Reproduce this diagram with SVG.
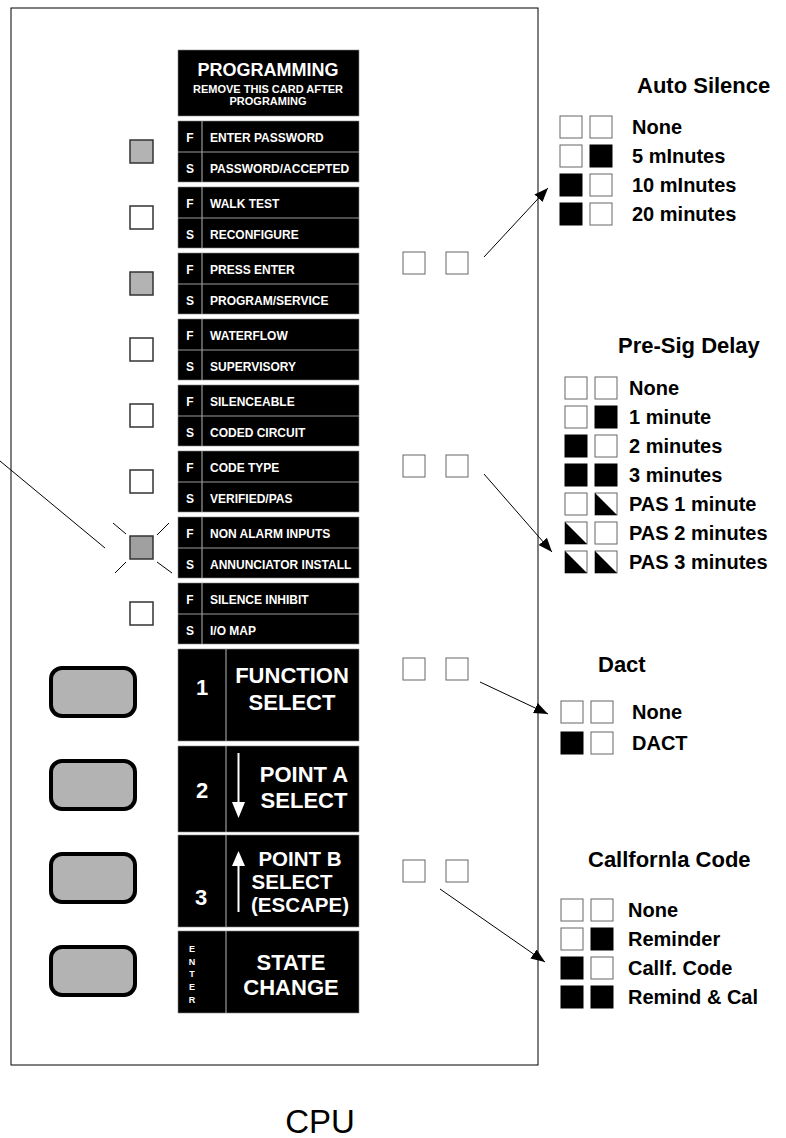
<svg xmlns="http://www.w3.org/2000/svg" width="786" height="1138" viewBox="0 0 786 1138">
<style>
.blk{fill:#000;stroke:#888;stroke-width:0.6}
.sep{stroke:#999;stroke-width:1.2}
.w{fill:#fff;font-family:"Liberation Sans",Arial,sans-serif;font-weight:bold}
.fs{font-size:12px}
.big{font-size:22px}
.led{stroke:#333;stroke-width:1.5}
.sq{fill:#fff;stroke:#666;stroke-width:1}
.sb{fill:#000;stroke:#000;stroke-width:1}
.lg{font-family:"Liberation Sans",Arial,sans-serif;font-weight:bold;font-size:20px;fill:#000}
.ttl{font-family:"Liberation Sans",Arial,sans-serif;font-weight:bold;font-size:22px;fill:#000}
.btn{fill:#b3b3b3;stroke:#000;stroke-width:4}
.ln{stroke:#000;stroke-width:1;fill:none}
</style>
<defs>
<marker id="ah" markerUnits="userSpaceOnUse" markerWidth="15" markerHeight="11" refX="14" refY="5.5" orient="auto"><path d="M0,0 L14,5.5 L0,11 z" fill="#000"/></marker>
<g id="half"><rect width="22" height="22" class="sq"/><path d="M0,0 L22,22 L0,22 z" fill="#000"/></g>
</defs>
<rect x="11" y="8" width="527" height="1057" fill="none" stroke="#000" stroke-width="1"/>

<g id="header">
<rect x="178" y="50" width="181" height="66" class="blk"/>
<text x="268" y="76" class="w" font-size="18" text-anchor="middle">PROGRAMMING</text>
<text x="268" y="93" class="w" font-size="11" text-anchor="middle">REMOVE THIS CARD AFTER</text>
<text x="268" y="105" class="w" font-size="11" text-anchor="middle">PROGRAMING</text>
</g>

<g id="row0"><rect x="178" y="121" width="181" height="61" class="blk"/><line x1="202" y1="121" x2="202" y2="182" class="sep"/><line x1="178" y1="152" x2="359" y2="152" class="sep"/><text x="190" y="142" class="w fs" text-anchor="middle">F</text><text x="210" y="142" class="w fs">ENTER PASSWORD</text><text x="190" y="173" class="w fs" text-anchor="middle">S</text><text x="210" y="173" class="w fs">PASSWORD/ACCEPTED</text><rect x="130" y="140" width="23" height="23" fill="#b3b3b3" class="led"/></g>
<g id="row1"><rect x="178" y="187" width="181" height="61" class="blk"/><line x1="202" y1="187" x2="202" y2="248" class="sep"/><line x1="178" y1="218" x2="359" y2="218" class="sep"/><text x="190" y="208" class="w fs" text-anchor="middle">F</text><text x="210" y="208" class="w fs">WALK TEST</text><text x="190" y="239" class="w fs" text-anchor="middle">S</text><text x="210" y="239" class="w fs">RECONFIGURE</text><rect x="130" y="206" width="23" height="23" fill="#fff" class="led"/></g>
<g id="row2"><rect x="178" y="253" width="181" height="61" class="blk"/><line x1="202" y1="253" x2="202" y2="314" class="sep"/><line x1="178" y1="284" x2="359" y2="284" class="sep"/><text x="190" y="274" class="w fs" text-anchor="middle">F</text><text x="210" y="274" class="w fs">PRESS ENTER</text><text x="190" y="305" class="w fs" text-anchor="middle">S</text><text x="210" y="305" class="w fs">PROGRAM/SERVICE</text><rect x="130" y="272" width="23" height="23" fill="#b3b3b3" class="led"/></g>
<g id="row3"><rect x="178" y="319" width="181" height="61" class="blk"/><line x1="202" y1="319" x2="202" y2="380" class="sep"/><line x1="178" y1="350" x2="359" y2="350" class="sep"/><text x="190" y="340" class="w fs" text-anchor="middle">F</text><text x="210" y="340" class="w fs">WATERFLOW</text><text x="190" y="371" class="w fs" text-anchor="middle">S</text><text x="210" y="371" class="w fs">SUPERVISORY</text><rect x="130" y="338" width="23" height="23" fill="#fff" class="led"/></g>
<g id="row4"><rect x="178" y="385" width="181" height="61" class="blk"/><line x1="202" y1="385" x2="202" y2="446" class="sep"/><line x1="178" y1="416" x2="359" y2="416" class="sep"/><text x="190" y="406" class="w fs" text-anchor="middle">F</text><text x="210" y="406" class="w fs">SILENCEABLE</text><text x="190" y="437" class="w fs" text-anchor="middle">S</text><text x="210" y="437" class="w fs">CODED CIRCUIT</text><rect x="130" y="404" width="23" height="23" fill="#fff" class="led"/></g>
<g id="row5"><rect x="178" y="451" width="181" height="61" class="blk"/><line x1="202" y1="451" x2="202" y2="512" class="sep"/><line x1="178" y1="482" x2="359" y2="482" class="sep"/><text x="190" y="472" class="w fs" text-anchor="middle">F</text><text x="210" y="472" class="w fs">CODE TYPE</text><text x="190" y="503" class="w fs" text-anchor="middle">S</text><text x="210" y="503" class="w fs">VERIFIED/PAS</text><rect x="130" y="470" width="23" height="23" fill="#fff" class="led"/></g>
<g id="row6"><rect x="178" y="517" width="181" height="61" class="blk"/><line x1="202" y1="517" x2="202" y2="578" class="sep"/><line x1="178" y1="548" x2="359" y2="548" class="sep"/><text x="190" y="538" class="w fs" text-anchor="middle">F</text><text x="210" y="538" class="w fs">NON ALARM INPUTS</text><text x="190" y="569" class="w fs" text-anchor="middle">S</text><text x="210" y="569" class="w fs">ANNUNCIATOR INSTALL</text><rect x="130" y="536" width="23" height="23" fill="#a0a0a0" class="led"/>
<g class="ln"><line x1="113" y1="523" x2="126" y2="534"/><line x1="157" y1="535" x2="169" y2="523"/><line x1="115" y1="573" x2="126" y2="562"/><line x1="157" y1="562" x2="172" y2="573"/></g></g>
<g id="row7"><rect x="178" y="583" width="181" height="61" class="blk"/><line x1="202" y1="583" x2="202" y2="644" class="sep"/><line x1="178" y1="614" x2="359" y2="614" class="sep"/><text x="190" y="604" class="w fs" text-anchor="middle">F</text><text x="210" y="604" class="w fs">SILENCE INHIBIT</text><text x="190" y="635" class="w fs" text-anchor="middle">S</text><text x="210" y="635" class="w fs">I/O MAP</text><rect x="130" y="602" width="23" height="23" fill="#fff" class="led"/></g>

<g id="key1"><rect x="51" y="668" width="84" height="48" rx="11" class="btn"/><rect x="178" y="649" width="181" height="92" class="blk"/><line x1="226" y1="649" x2="226" y2="741" class="sep"/><text x="202" y="695" class="w big" text-anchor="middle">1</text><text x="292" y="683" class="w big" text-anchor="middle">FUNCTION</text><text x="292" y="710" class="w big" text-anchor="middle">SELECT</text></g>
<g id="key2"><rect x="51" y="761" width="84" height="48" rx="11" class="btn"/><rect x="178" y="746" width="181" height="86" class="blk"/><line x1="226" y1="746" x2="226" y2="832" class="sep"/><text x="202" y="798" class="w big" text-anchor="middle">2</text><line x1="238.5" y1="753" x2="238.5" y2="805" stroke="#fff" stroke-width="2"/><path d="M232,802 L245,802 L238.5,818 z" fill="#fff"/><text x="304" y="782" class="w big" text-anchor="middle">POINT A</text><text x="304" y="808" class="w big" text-anchor="middle">SELECT</text></g>
<g id="key3"><rect x="51" y="854" width="84" height="48" rx="11" class="btn"/><rect x="178" y="835" width="181" height="92" class="blk"/><line x1="226" y1="835" x2="226" y2="927" class="sep"/><text x="201" y="905" class="w big" text-anchor="middle">3</text><line x1="238.5" y1="864" x2="238.5" y2="912" stroke="#fff" stroke-width="2"/><path d="M232,866 L245,866 L238.5,851 z" fill="#fff"/><g class="w" font-size="20.5" text-anchor="middle"><text x="300" y="866">POINT B</text><text x="292" y="889">SELECT</text><text x="300" y="912">(ESCAPE)</text></g></g>
<g id="key4"><rect x="51" y="947" width="84" height="48" rx="11" class="btn"/><rect x="178" y="931" width="181" height="82" class="blk"/><line x1="226" y1="931" x2="226" y2="1013" class="sep"/><g class="w" font-size="9" text-anchor="middle"><text x="192" y="952">E</text><text x="192" y="965">N</text><text x="192" y="977">T</text><text x="192" y="990">E</text><text x="192" y="1003">R</text></g><text x="291" y="970" class="w big" text-anchor="middle">STATE</text><text x="291" y="995" class="w big" text-anchor="middle">CHANGE</text></g>

<g id="sw1"><rect x="403" y="252" width="22" height="22" class="sq"/><rect x="446" y="252" width="22" height="22" class="sq"/></g>
<g id="sw2"><rect x="403" y="455" width="22" height="22" class="sq"/><rect x="446" y="455" width="22" height="22" class="sq"/></g>
<g id="sw3"><rect x="403" y="658" width="22" height="22" class="sq"/><rect x="446" y="658" width="22" height="22" class="sq"/></g>
<g id="sw4"><rect x="403" y="860" width="22" height="22" class="sq"/><rect x="446" y="860" width="22" height="22" class="sq"/></g>

<g id="connectors" class="ln">
<line x1="0" y1="461" x2="105" y2="548"/>
<line x1="484" y1="257" x2="548" y2="188" marker-end="url(#ah)"/>
<line x1="484" y1="474" x2="552" y2="552" marker-end="url(#ah)"/>
<line x1="480" y1="682" x2="548" y2="714" marker-end="url(#ah)"/>
<line x1="440" y1="889" x2="545" y2="962" marker-end="url(#ah)"/>
</g>

<g id="legend-autosilence">
<text x="637" y="93" class="ttl">Auto Silence</text>
<rect x="560" y="116" width="22" height="22" class="sq"/><rect x="590" y="116" width="22" height="22" class="sq"/><text x="632" y="134" class="lg">None</text>
<rect x="560" y="145" width="22" height="22" class="sq"/><rect x="590" y="145" width="22" height="22" class="sb"/><text x="632" y="163" class="lg">5 mInutes</text>
<rect x="560" y="174" width="22" height="22" class="sb"/><rect x="590" y="174" width="22" height="22" class="sq"/><text x="632" y="192" class="lg">10 mInutes</text>
<rect x="560" y="203" width="22" height="22" class="sb"/><rect x="590" y="203" width="22" height="22" class="sq"/><text x="632" y="221" class="lg">20 minutes</text>
</g>

<g id="legend-presig">
<text x="618" y="353" class="ttl">Pre-Sig Delay</text>
<rect x="565" y="377" width="22" height="22" class="sq"/><rect x="595" y="377" width="22" height="22" class="sq"/><text x="629" y="395" class="lg">None</text>
<rect x="565" y="406" width="22" height="22" class="sq"/><rect x="595" y="406" width="22" height="22" class="sb"/><text x="629" y="424" class="lg">1 minute</text>
<rect x="565" y="435" width="22" height="22" class="sb"/><rect x="595" y="435" width="22" height="22" class="sq"/><text x="629" y="453" class="lg">2 minutes</text>
<rect x="565" y="464" width="22" height="22" class="sb"/><rect x="595" y="464" width="22" height="22" class="sb"/><text x="629" y="482" class="lg">3 minutes</text>
<rect x="565" y="493" width="22" height="22" class="sq"/><use href="#half" x="595" y="493"/><text x="629" y="511" class="lg">PAS 1 minute</text>
<use href="#half" x="565" y="522"/><rect x="595" y="522" width="22" height="22" class="sq"/><text x="629" y="540" class="lg">PAS 2 minutes</text>
<use href="#half" x="565" y="551"/><use href="#half" x="595" y="551"/><text x="629" y="569" class="lg">PAS 3 minutes</text>
</g>

<g id="legend-dact">
<text x="598" y="672" class="ttl">Dact</text>
<rect x="561" y="701" width="22" height="22" class="sq"/><rect x="591" y="701" width="22" height="22" class="sq"/><text x="632" y="719" class="lg">None</text>
<rect x="561" y="732" width="22" height="22" class="sb"/><rect x="591" y="732" width="22" height="22" class="sq"/><text x="632" y="750" class="lg">DACT</text>
</g>

<g id="legend-california">
<text x="588" y="867" class="ttl">Callfornla Code</text>
<rect x="561" y="899" width="22" height="22" class="sq"/><rect x="591" y="899" width="22" height="22" class="sq"/><text x="628" y="917" class="lg">None</text>
<rect x="561" y="928" width="22" height="22" class="sq"/><rect x="591" y="928" width="22" height="22" class="sb"/><text x="628" y="946" class="lg">Reminder</text>
<rect x="561" y="957" width="22" height="22" class="sb"/><rect x="591" y="957" width="22" height="22" class="sq"/><text x="628" y="975" class="lg">Callf. Code</text>
<rect x="561" y="986" width="22" height="22" class="sb"/><rect x="591" y="986" width="22" height="22" class="sb"/><text x="628" y="1004" class="lg">Remind &amp; Cal</text>
</g>

<text x="320" y="1133" font-family="'Liberation Sans',Arial,sans-serif" font-size="33" text-anchor="middle" fill="#000">CPU</text>
</svg>
